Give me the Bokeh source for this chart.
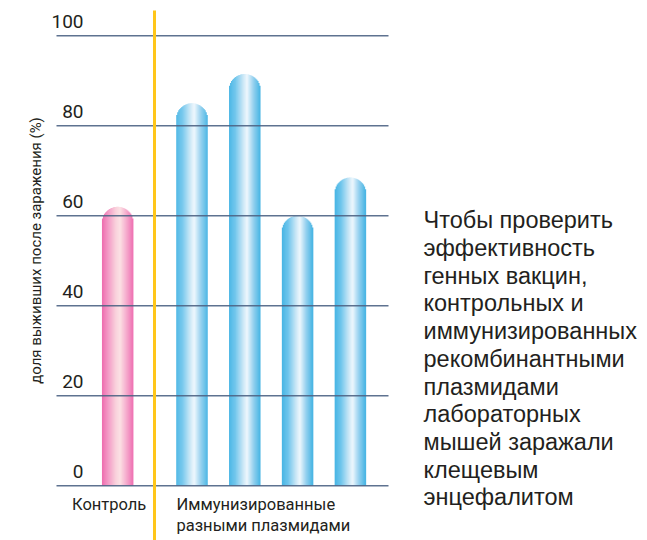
import math
from bokeh.plotting import figure
from bokeh.models import Range1d, ColumnDataSource
from bokeh.core.properties import value
from bokeh.embed import file_html
from bokeh.resources import INLINE

# ---------------- data ----------------
control_label = ["Контроль"]
immunized_label = ["Иммунизированные", "разными плазмидами"]
control_values = [62]
immunized_values = [85, 91.5, 60, 68.5]
y_ticks = [0, 20, 40, 60, 80, 100]
y_tick_labels = ["0", "20", "40", "60", "80", "100"]
y_title = "доля выживших после заражения (%)"
caption_lines = [
    "Чтобы проверить",
    "эффективность",
    "генных вакцин,",
    "контрольных и",
    "иммунизированных",
    "рекомбинантными",
    "плазмидами",
    "лабораторных",
    "мышей заражали",
    "клещевым",
    "энцефалитом",
]

# ---------------- layout ----------------
W, H = 647, 540
Y0 = 485.3          # pixel row of value 0
PXU = 4.5           # pixels per value unit
HW = 15.5           # bar half width (px)
CTRL_X = 117.2
BLUE_X0 = 191.5
STEP = 52.8
GRID_X0, GRID_X1 = 56, 388
DIV_X = 154
NARROW = "Roboto"
REG = "Liberation Sans"
TXT = "#231f20"
TSHIFT = 8.5        # baseline correction of the svg text (px)


def py(px):
    return (Y0 - px) / PXU


def ty(px):
    return py(px - TSHIFT)


def hex_to_rgb(h):
    h = h.lstrip("#")
    return tuple(int(h[i:i + 2], 16) for i in (0, 2, 4))


def grad(stops, t):
    for (p0, c0), (p1, c1) in zip(stops, stops[1:]):
        if p0 <= t <= p1:
            f = (t - p0) / (p1 - p0) if p1 > p0 else 0
            a, b = hex_to_rgb(c0), hex_to_rgb(c1)
            r = [round(a[j] + (b[j] - a[j]) * f) for j in range(3)]
            return "#%02x%02x%02x" % tuple(r)
    return stops[-1][1]


BLUE = [(0.0, "#47b5e4"), (0.2, "#6fc5ec"), (0.45, "#c8e6f6"),
        (0.58, "#eef7fd"), (0.78, "#96d1ef"), (1.0, "#45b4e3")]
PINK = [(0.0, "#ee6cae"), (0.2, "#f39bc6"), (0.45, "#f9d2dc"),
        (0.58, "#fbe1e4"), (0.8, "#f5a9cc"), (1.0, "#ef72b3")]

bars = [(CTRL_X, v, PINK) for v in control_values] + \
       [(BLUE_X0 + i * STEP, v, BLUE) for i, v in enumerate(immunized_values)]

N = 31
ry = HW / PXU
xs, tops, cols = [], [], []
for cx, v, stops in bars:
    for k in range(N):
        dx = -HW + (k + 0.5) * (2 * HW / N)
        xs.append(cx + dx)
        tops.append(v - ry + ry * math.sqrt(max(0.0, 1 - (dx / HW) ** 2)))
        cols.append(grad(stops, (k + 0.5) / N))
src = ColumnDataSource(dict(x=xs, top=tops, color=cols))

p = figure(width=W, height=H, x_range=Range1d(0, W),
           y_range=Range1d(py(H), py(0)), min_border=0,
           x_axis_type=None, y_axis_type=None,
           toolbar_location=None, output_backend="svg")
p.grid.visible = False
p.outline_line_color = None
p.background_fill_color = "white"

p.vbar(x="x", top="top", bottom=0, width=1.5, fill_color="color",
       line_color=None, source=src)

# grid lines (over the bars)
p.segment(x0=GRID_X0, x1=GRID_X1, y0=y_ticks, y1=y_ticks,
          line_color="#4d6384", line_width=1.6, line_alpha=0.9)

# divider
p.segment(x0=[DIV_X], x1=[DIV_X], y0=[py(10)], y1=[py(H)],
          line_color="#ffc61a", line_width=3)

# tick labels (baseline ~5.5 px above each grid line)
p.text(x=[83] * len(y_ticks),
       y=[ty(Y0 - t * PXU - 5.5) for t in y_ticks],
       text=y_tick_labels, text_align="right", text_baseline="alphabetic",
       text_font=value(NARROW), text_font_size="19px", text_color=TXT)

# y title
p.text(x=[35], y=[py(250)], text=[y_title], angle=math.pi / 2,
       text_align="center", text_baseline="middle",
       text_font=value(NARROW), text_font_size="15px", text_color=TXT)

# category labels
p.text(x=[71.5], y=[ty(512)], text=control_label, text_align="left",
       text_baseline="alphabetic", text_font=value(NARROW),
       text_font_size="16.5px", text_color=TXT)
p.text(x=[176, 176], y=[ty(512), ty(533)], text=immunized_label,
       text_align="left", text_baseline="alphabetic",
       text_font=value(NARROW), text_font_size="16.5px", text_color=TXT)

# caption
p.text(x=[423] * len(caption_lines),
       y=[ty(228.3 + i * 27.7) for i in range(len(caption_lines))],
       text=caption_lines, text_align="left", text_baseline="alphabetic",
       text_font=value(REG), text_font_size="23.5px", text_color=TXT)

open("out.html", "w").write(file_html(p, INLINE))
